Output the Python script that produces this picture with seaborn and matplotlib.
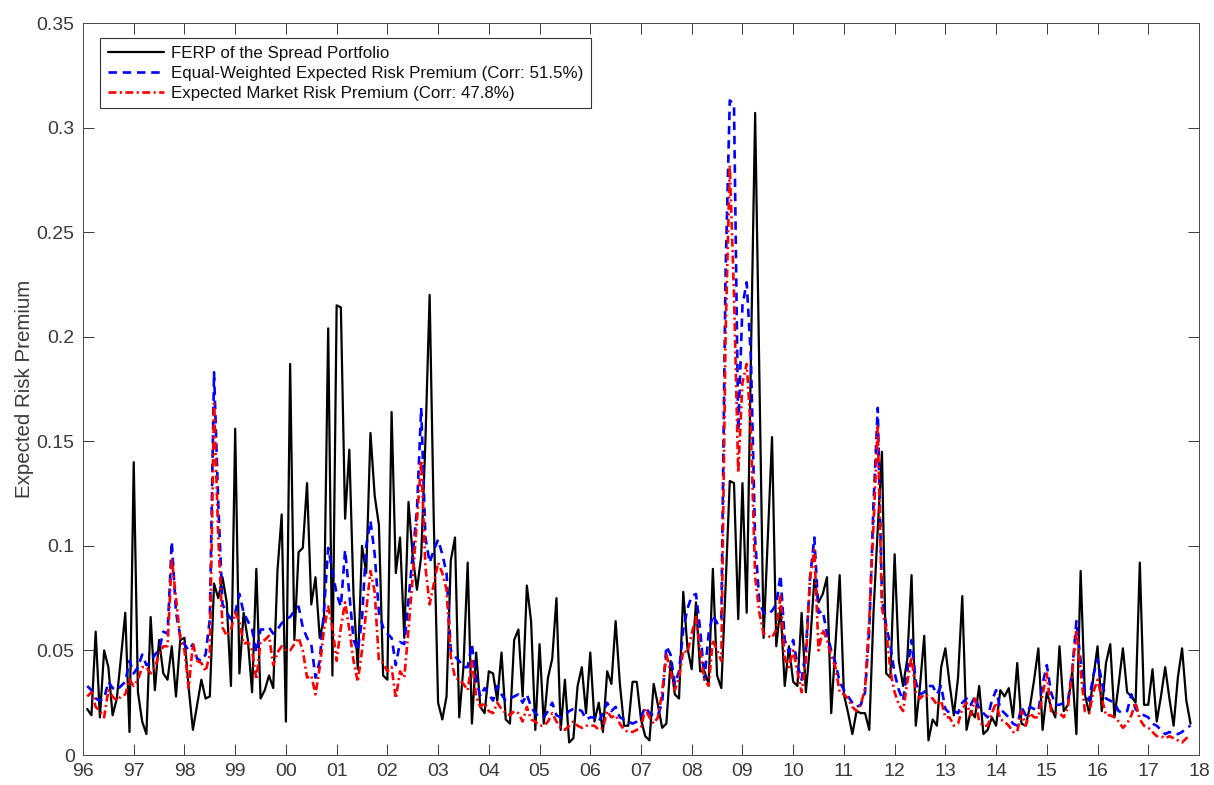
import numpy as np
import pandas as pd
import matplotlib
matplotlib.use("Agg")
import matplotlib.pyplot as plt
import seaborn as sns

# Monthly observations, Feb 1996 onwards (one row per 12 months)
ferp_spread = [
    0.022, 0.019, 0.059, 0.018, 0.050, 0.042, 0.019, 0.027, 0.047, 0.068, 0.011, 0.140,
    0.030, 0.016, 0.010, 0.066, 0.031, 0.055, 0.039, 0.036, 0.052, 0.028, 0.055, 0.056,
    0.032, 0.012, 0.024, 0.036, 0.027, 0.028, 0.082, 0.075, 0.085, 0.073, 0.033, 0.156,
    0.039, 0.068, 0.055, 0.030, 0.089, 0.027, 0.031, 0.038, 0.032, 0.088, 0.115, 0.016,
    0.187, 0.055, 0.097, 0.099, 0.130, 0.072, 0.085, 0.056, 0.065, 0.204, 0.038, 0.215,
    0.214, 0.113, 0.146, 0.076, 0.041, 0.100, 0.087, 0.154, 0.124, 0.110, 0.038, 0.036,
    0.164, 0.087, 0.104, 0.056, 0.121, 0.095, 0.079, 0.095, 0.150, 0.220, 0.110, 0.025,
    0.017, 0.028, 0.093, 0.104, 0.018, 0.042, 0.092, 0.015, 0.049, 0.023, 0.020, 0.040,
    0.039, 0.026, 0.049, 0.017, 0.015, 0.055, 0.060, 0.028, 0.081, 0.064, 0.012, 0.053,
    0.015, 0.037, 0.046, 0.075, 0.012, 0.036, 0.006, 0.008, 0.033, 0.042, 0.020, 0.049,
    0.016, 0.025, 0.011, 0.040, 0.034, 0.064, 0.034, 0.014, 0.014, 0.035, 0.035, 0.017,
    0.009, 0.007, 0.034, 0.024, 0.013, 0.015, 0.045, 0.029, 0.027, 0.078, 0.051, 0.041,
    0.073, 0.040, 0.040, 0.034, 0.089, 0.038, 0.032, 0.080, 0.131, 0.130, 0.065, 0.130,
    0.068, 0.190, 0.307, 0.180, 0.056, 0.104, 0.152, 0.052, 0.071, 0.033, 0.052, 0.035,
    0.033, 0.068, 0.030, 0.053, 0.084, 0.073, 0.077, 0.085, 0.020, 0.053, 0.086, 0.029,
    0.020, 0.010, 0.021, 0.020, 0.020, 0.012, 0.068, 0.108, 0.145, 0.039, 0.037, 0.096,
    0.045, 0.033, 0.046, 0.086, 0.014, 0.033, 0.057, 0.007, 0.017, 0.014, 0.042, 0.051,
    0.034, 0.019, 0.037, 0.076, 0.012, 0.021, 0.018, 0.033, 0.010, 0.012, 0.018, 0.014,
    0.031, 0.028, 0.032, 0.018, 0.044, 0.015, 0.014, 0.023, 0.036, 0.051, 0.012, 0.030,
    0.023, 0.018, 0.052, 0.021, 0.024, 0.040, 0.010, 0.088, 0.029, 0.020, 0.037, 0.052,
    0.021, 0.044, 0.053, 0.018, 0.034, 0.051, 0.030, 0.028, 0.025, 0.092, 0.024, 0.024,
    0.041, 0.016, 0.028, 0.042, 0.027, 0.014, 0.037, 0.051, 0.026, 0.015,
]

equal_weighted = [
    0.033, 0.031, 0.027, 0.026, 0.027, 0.035, 0.032, 0.031, 0.033, 0.035, 0.045, 0.039,
    0.042, 0.048, 0.043, 0.044, 0.048, 0.050, 0.059, 0.058, 0.102, 0.068, 0.057, 0.053,
    0.050, 0.053, 0.046, 0.045, 0.048, 0.065, 0.183, 0.120, 0.072, 0.068, 0.065, 0.068,
    0.077, 0.068, 0.064, 0.060, 0.049, 0.060, 0.060, 0.061, 0.058, 0.060, 0.063, 0.065,
    0.066, 0.069, 0.071, 0.061, 0.056, 0.053, 0.037, 0.045, 0.069, 0.099, 0.088, 0.077,
    0.071, 0.098, 0.077, 0.055, 0.050, 0.065, 0.100, 0.112, 0.096, 0.068, 0.061, 0.058,
    0.056, 0.043, 0.054, 0.053, 0.074, 0.096, 0.117, 0.166, 0.104, 0.092, 0.098, 0.103,
    0.096, 0.087, 0.050, 0.047, 0.045, 0.042, 0.042, 0.053, 0.036, 0.028, 0.032, 0.029,
    0.026, 0.033, 0.029, 0.026, 0.027, 0.028, 0.029, 0.025, 0.029, 0.023, 0.020, 0.018,
    0.018, 0.021, 0.025, 0.019, 0.018, 0.019, 0.021, 0.022, 0.022, 0.021, 0.017, 0.018,
    0.018, 0.016, 0.020, 0.025, 0.021, 0.023, 0.018, 0.017, 0.016, 0.015, 0.016, 0.018,
    0.023, 0.020, 0.019, 0.019, 0.025, 0.052, 0.048, 0.034, 0.040, 0.060, 0.070, 0.076,
    0.077, 0.060, 0.036, 0.058, 0.067, 0.063, 0.064, 0.230, 0.313, 0.311, 0.155, 0.215,
    0.226, 0.190, 0.103, 0.073, 0.068, 0.067, 0.069, 0.072, 0.086, 0.055, 0.049, 0.055,
    0.043, 0.036, 0.050, 0.085, 0.104, 0.068, 0.069, 0.058, 0.050, 0.044, 0.035, 0.031,
    0.028, 0.025, 0.023, 0.024, 0.030, 0.060, 0.120, 0.166, 0.075, 0.062, 0.052, 0.039,
    0.031, 0.026, 0.040, 0.055, 0.035, 0.029, 0.030, 0.033, 0.033, 0.029, 0.033, 0.022,
    0.020, 0.021, 0.020, 0.025, 0.027, 0.024, 0.028, 0.022, 0.020, 0.018, 0.026, 0.031,
    0.022, 0.020, 0.018, 0.015, 0.014, 0.023, 0.019, 0.023, 0.022, 0.021, 0.034, 0.043,
    0.030, 0.024, 0.024, 0.025, 0.026, 0.040, 0.064, 0.045, 0.030, 0.026, 0.038, 0.046,
    0.035, 0.027, 0.026, 0.025, 0.021, 0.020, 0.021, 0.029, 0.022, 0.020, 0.019, 0.018,
    0.015, 0.014, 0.012, 0.010, 0.011, 0.010, 0.010, 0.011, 0.013, 0.014,
]

market = [
    0.028, 0.030, 0.023, 0.021, 0.018, 0.031, 0.028, 0.026, 0.028, 0.029, 0.036, 0.033,
    0.036, 0.042, 0.042, 0.039, 0.042, 0.048, 0.052, 0.052, 0.094, 0.075, 0.056, 0.050,
    0.032, 0.053, 0.045, 0.044, 0.040, 0.048, 0.168, 0.104, 0.061, 0.057, 0.060, 0.068,
    0.064, 0.053, 0.054, 0.050, 0.036, 0.054, 0.055, 0.057, 0.043, 0.049, 0.052, 0.050,
    0.050, 0.053, 0.056, 0.050, 0.037, 0.038, 0.029, 0.042, 0.060, 0.071, 0.061, 0.045,
    0.061, 0.073, 0.060, 0.045, 0.035, 0.050, 0.069, 0.088, 0.078, 0.045, 0.044, 0.040,
    0.042, 0.027, 0.040, 0.037, 0.060, 0.085, 0.112, 0.141, 0.090, 0.072, 0.082, 0.092,
    0.087, 0.079, 0.047, 0.037, 0.036, 0.034, 0.031, 0.045, 0.028, 0.023, 0.025, 0.021,
    0.020, 0.025, 0.022, 0.020, 0.019, 0.021, 0.020, 0.016, 0.023, 0.017, 0.016, 0.014,
    0.014, 0.016, 0.020, 0.016, 0.013, 0.012, 0.014, 0.016, 0.014, 0.013, 0.014, 0.014,
    0.014, 0.012, 0.013, 0.021, 0.018, 0.019, 0.015, 0.012, 0.011, 0.011, 0.012, 0.013,
    0.022, 0.018, 0.015, 0.018, 0.030, 0.048, 0.040, 0.031, 0.037, 0.050, 0.049, 0.058,
    0.066, 0.050, 0.036, 0.033, 0.055, 0.050, 0.045, 0.200, 0.282, 0.220, 0.135, 0.178,
    0.187, 0.155, 0.085, 0.068, 0.058, 0.057, 0.056, 0.060, 0.076, 0.046, 0.042, 0.050,
    0.040, 0.030, 0.045, 0.085, 0.098, 0.050, 0.060, 0.055, 0.047, 0.042, 0.030, 0.029,
    0.027, 0.023, 0.021, 0.024, 0.032, 0.065, 0.110, 0.157, 0.070, 0.060, 0.040, 0.030,
    0.024, 0.021, 0.035, 0.047, 0.030, 0.027, 0.029, 0.028, 0.027, 0.024, 0.026, 0.018,
    0.018, 0.014, 0.015, 0.022, 0.025, 0.019, 0.027, 0.016, 0.014, 0.014, 0.020, 0.025,
    0.017, 0.016, 0.014, 0.011, 0.011, 0.021, 0.014, 0.020, 0.018, 0.018, 0.029, 0.039,
    0.021, 0.020, 0.020, 0.018, 0.023, 0.040, 0.060, 0.040, 0.021, 0.020, 0.030, 0.036,
    0.027, 0.019, 0.019, 0.018, 0.016, 0.013, 0.015, 0.019, 0.025, 0.017, 0.014, 0.013,
    0.011, 0.009, 0.009, 0.008, 0.009, 0.008, 0.007, 0.006, 0.008, 0.009,
]

series_labels = [
    "FERP of the Spread Portfolio",
    "Equal-Weighted Expected Risk Premium (Corr: 51.5%)",
    "Expected Market Risk Premium (Corr: 47.8%)",
]
year_ticks = list(range(1996, 2019))
year_labels = [f"{y % 100:02d}" for y in year_ticks]
y_ticks = [0, 0.05, 0.1, 0.15, 0.2, 0.25, 0.3, 0.35]
y_tick_labels = ["0", "0.05", "0.1", "0.15", "0.2", "0.25", "0.3", "0.35"]

n = len(ferp_spread)
t = 1996 + np.arange(1, n + 1) / 12.0
df = pd.DataFrame({
    "t": t,
    "ferp": ferp_spread,
    "ew": equal_weighted,
    "mkt": market,
})

sns.set_theme(style="white")
plt.rcParams["font.family"] = ["Liberation Sans", "DejaVu Sans"]
ink = "#3a3a3a"

fig = plt.figure(figsize=(12.14, 7.85), dpi=100)
ax = fig.add_axes([83 / 1214, 1 - 755 / 785, (1199 - 83) / 1214, (755 - 23) / 785])

sns.lineplot(data=df, x="t", y="ferp", ax=ax, color="black", linewidth=1.6,
             label=series_labels[0])
sns.lineplot(data=df, x="t", y="ew", ax=ax, color="#0000ff", linewidth=1.9,
             linestyle=(0, (3.2, 2.2)), label=series_labels[1])
sns.lineplot(data=df, x="t", y="mkt", ax=ax, color="#ff0000", linewidth=1.9,
             linestyle=(0, (3.0, 1.3, 0.8, 1.3)), label=series_labels[2])

ax.set_xlim(1996, 2018)
ax.set_ylim(0, 0.35)
ax.set_xticks(year_ticks)
ax.set_xticklabels(year_labels)
ax.set_yticks(y_ticks)
ax.set_yticklabels(y_tick_labels)
ax.set_xlabel("")
ax.set_ylabel("Expected Risk Premium", fontsize=14.8, color=ink, labelpad=2)

ax.tick_params(axis="both", which="both", direction="in", length=8, width=0.7,
               colors=ink, labelsize=14, top=True, right=True,
               bottom=True, left=True, pad=6)
for s in ax.spines.values():
    s.set_visible(True)
    s.set_color("#4a4a4a")
    s.set_linewidth(0.7)
ax.grid(False)

leg = ax.legend(loc="upper left", bbox_to_anchor=(0.0155, 0.9795), borderaxespad=0,
                fontsize=12.2, frameon=True, fancybox=False, framealpha=1,
                edgecolor="#333333", handlelength=3.3, handletextpad=0.4,
                labelspacing=0.3, borderpad=0.45)
leg.get_frame().set_linewidth(0.8)
for txt in leg.get_texts():
    txt.set_color("#111111")

fig.savefig("out.png", dpi=100)
